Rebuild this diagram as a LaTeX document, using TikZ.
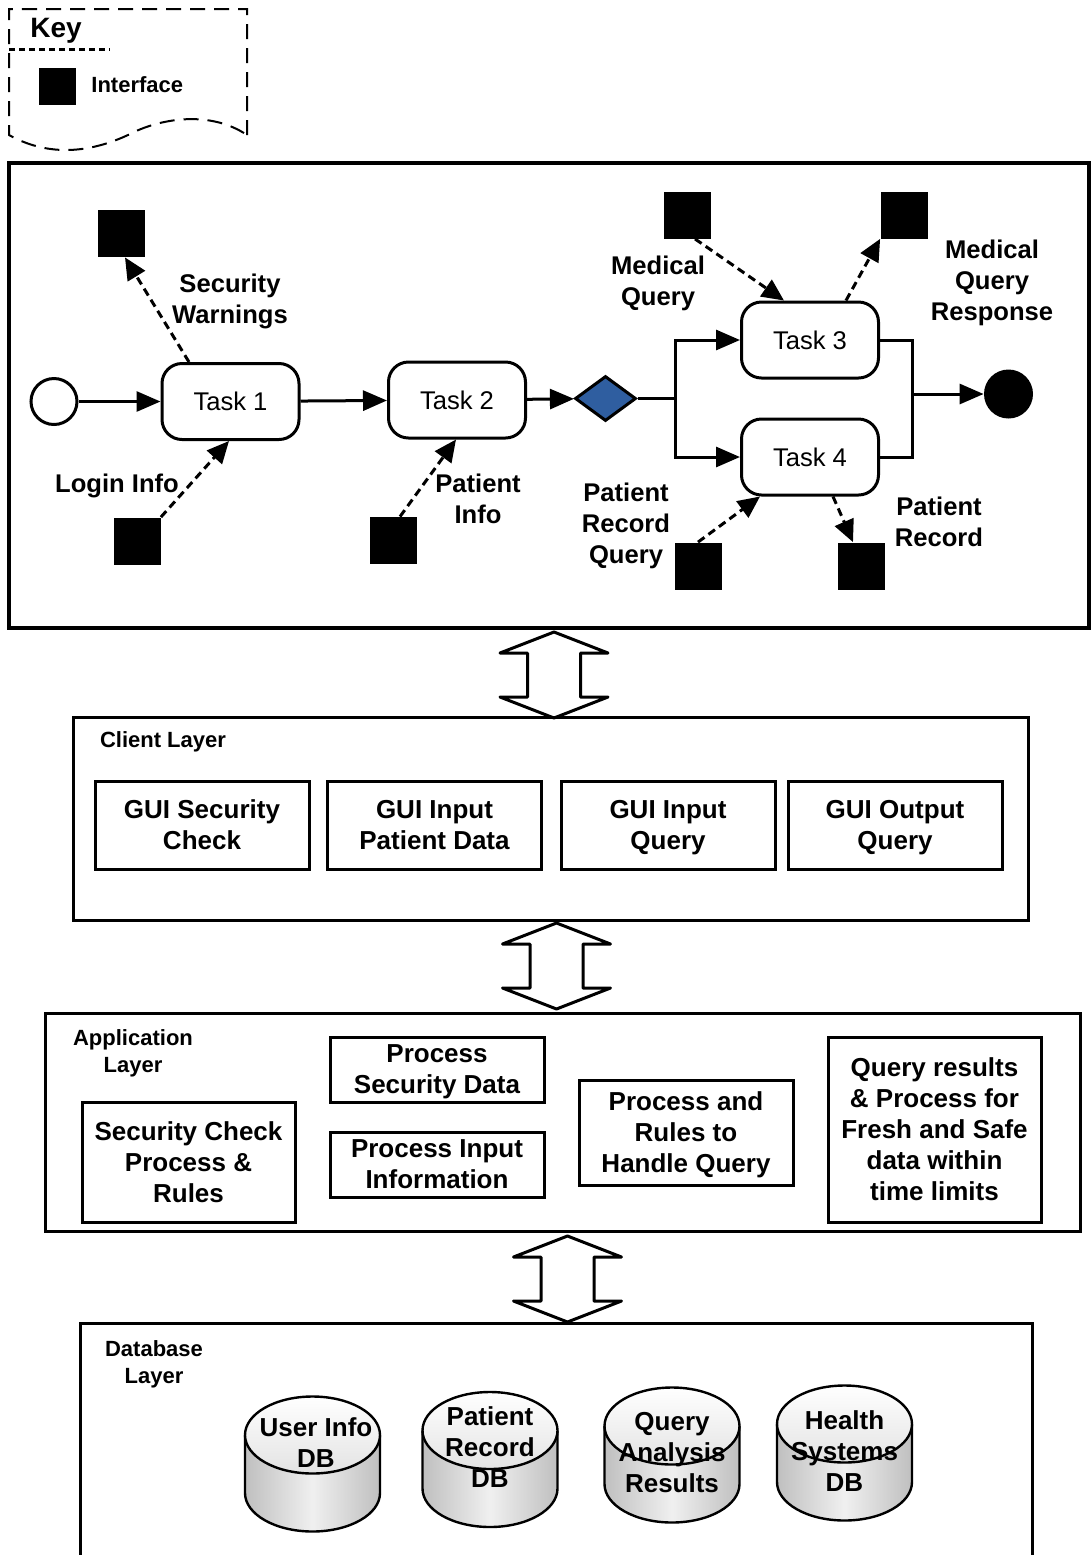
\documentclass[tikz,border=0pt]{standalone}
\usepackage{fontspec}
\setmainfont{Liberation Sans}
\usetikzlibrary{arrows.meta,shapes.geometric,calc}
\definecolor{gatewayblue}{RGB}{47,94,160}

% two-headed block arrow between layers
\tikzset{
  updown/.pic={
    \draw[line width=1.5pt,line join=round,fill=white]
      (0,-43) -- (54,-22) -- (26.5,-22) -- (26.5,22) -- (54,22) -- (0,43)
      -- (-54,22) -- (-26.5,22) -- (-26.5,-22) -- (-54,-22) -- cycle;
  },
  % database drum, origin at the centre of the top ellipse
  dbcyl/.pic={
    \path[left color=gray!50,right color=gray!50,middle color=gray!12]
      (-67.5,0) -- (-67.5,58) arc[start angle=180,end angle=0,x radius=67.5,y radius=38.5]
      -- (67.5,0) -- cycle;
    \draw[line width=1.2pt]
      (-67.5,0) -- (-67.5,58) arc[start angle=180,end angle=0,x radius=67.5,y radius=38.5]
      -- (67.5,0);
    \draw[line width=1.2pt,top color=white,bottom color=gray!22]
      (0,0) ellipse[x radius=67.5,y radius=38.5];
  }
}

\begin{document}
\begin{tikzpicture}[x=0.5pt,y=-0.5pt,
  lw/.style={line width=1.5pt},
  task/.style={draw,line width=1.5pt,rounded corners=10pt,minimum width=68.5pt,
    minimum height=38pt,inner sep=0pt,font=\fontsize{12.8}{15}\selectfont},
  iface/.style={fill=black,minimum size=23.5pt,inner sep=0pt},
  flowlbl/.style={align=center,font=\bfseries\fontsize{12.8}{15.5}\selectfont,inner sep=0pt},
  flow/.style={line width=1.5pt,-{Triangle[length=12pt,width=10pt]}},
  dataflow/.style={line width=1.5pt,dash pattern=on 4pt off 2.5pt,
    -{Triangle[length=11pt,width=10pt]}},
  layer/.style={draw,line width=1.5pt},
  layerlbl/.style={align=center,font=\bfseries\fontsize{11}{13.5}\selectfont,inner sep=0pt},
  comp/.style={draw,line width=1.5pt,inner sep=0pt,align=center,
    font=\bfseries\fontsize{13}{15.5}\selectfont},
  dblabel/.style={align=center,font=\bfseries\fontsize{13}{15.5}\selectfont,inner sep=0pt}
]
\useasboundingbox (0,0) rectangle (1091,1555);

% ---------- legend ----------
\draw[line width=1pt,dash pattern=on 7.5pt off 4.5pt]
  (247,135) -- (247,9) -- (9,9) -- (9,135)
  .. controls (45,155) and (85,155) .. (128,135)
  .. controls (160,118) and (210,110) .. (247,135);
\draw[line width=1.5pt,dash pattern=on 3pt off 2pt] (9,49) -- (110,49);
\node[font=\bfseries\fontsize{14}{16}\selectfont,inner sep=0pt] (keyttl) at (56,31) {Key};
\node[fill=black,minimum size=18.5pt,inner sep=0pt] (keysq) at (57.5,86) {};
\node[font=\bfseries\fontsize{11}{13}\selectfont,anchor=west,inner sep=0pt] (keytxt) at (91,85) {Interface};

% ---------- process panel ----------
\draw[line width=1.75pt] (9,163) rectangle (1089,628);

\node[circle,draw,line width=1.5pt,minimum size=23pt,inner sep=0pt] (start) at (54,401.5) {};
\node[task] (t1) at (230.5,401.5) {Task 1};
\node[task] (t2) at (457,400) {Task 2};
\node[diamond,draw,fill=gatewayblue,line width=1.5pt,minimum width=30.5pt,
  minimum height=22.5pt,inner sep=0pt] (gw) at (605.5,398.5) {};
\node[task] (t3) at (810,340) {Task 3};
\node[task] (t4) at (810,457) {Task 4};
\node[circle,fill=black,minimum size=24.5pt,inner sep=0pt] (endc) at (1008.5,394) {};

\node[iface] (sw) at (121.5,233.5) {};
\node[iface] (li) at (137,541) {};
\node[iface] (pi) at (393.5,540.5) {};
\node[iface] (mq) at (687,215) {};
\node[iface] (mqr) at (904,215) {};
\node[iface] (prq) at (698,566) {};
\node[iface] (pr) at (861,566) {};

\coordinate (fork) at (675,398.5);
\coordinate (join) at (912,394);

\draw[flow] (start) -- (t1);
\draw[flow] (t1) -- (t2);
\draw[flow] (t2) -- (gw);
\draw[lw] (gw) -- (fork);
\draw[flow] (fork) |- (t3);
\draw[flow] (fork) |- (t4);
\draw[lw] (t3) -| (join);
\draw[lw] (t4) -| (join);
\draw[flow] (join) -- (endc);

\draw[dataflow] ($(t1.north)+(-41.5,0)$) -- ($(sw.south)+(3.5,0)$);
\draw[dataflow] (li.north east) -- ($(t1.south)+(-1.5,0)$);
\draw[dataflow] ($(pi.north)+(6.5,0)$) -- ($(t2.south)+(-1,0)$);
\draw[dataflow] ($(mq.south)+(8,0)$) -- ($(t3.north)+(-26,0)$);
\draw[dataflow] ($(t3.north)+(36,0)$) -- (mqr.south west);
\draw[dataflow] (prq.north) -- ($(t4.south)+(-50,0)$);
\draw[dataflow] ($(t4.south)+(23,0)$) -- ($(pr.north)+(-8,0)$);

\node[flowlbl] (lsw) at (230,301.5) {Security\\Warnings};
\node[flowlbl] (lli) at (117,486) {Login Info};
\node[flowlbl] (lpi) at (478,499) {Patient\\Info};
\node[flowlbl] (lmq) at (658,283.5) {Medical\\Query};
\node[flowlbl] (lmqr) at (992,283) {Medical\\Query\\Response};
\node[flowlbl] (lprq) at (626,526) {Patient\\Record\\Query};
\node[flowlbl] (lpr) at (939,521.5) {Patient\\Record};

% ---------- arrows between layers ----------
\pic at (554,675) {updown};
\pic at (556.5,966) {updown};
\pic at (567.5,1279) {updown};

% ---------- client layer ----------
\draw[layer] (73,717) rectangle (1028,920);
\node[layerlbl] (cl) at (163,742) {Client Layer};
\node[comp,minimum width=107pt,minimum height=44pt] (g1) at (202,825) {GUI Security\\Check};
\node[comp,minimum width=107pt,minimum height=44pt] (g2) at (434.5,825) {GUI Input\\Patient Data};
\node[comp,minimum width=107pt,minimum height=44pt] (g3) at (668,825) {GUI Input\\\smash{Query}};
\node[comp,minimum width=107pt,minimum height=44pt] (g4) at (895,825) {GUI Output\\\smash{Query}};

% ---------- application layer ----------
\draw[layer] (45,1013) rectangle (1080,1231);
\node[layerlbl] (al) at (133,1053) {Application\\Layer};
\node[comp,minimum width=106.5pt,minimum height=60pt] (a1) at (188.5,1162) {Security Check\\Process \&\\Rules};
\node[comp,minimum width=107pt,minimum height=32.5pt] (a2) at (437,1069.5) {Process\\\smash{Security Data}};
\node[comp,minimum width=107pt,minimum height=32.5pt] (a3) at (437,1164.5) {Process Input\\Information};
\node[comp,minimum width=107pt,minimum height=52.5pt] (a4) at (686,1132.5) {Process and\\Rules to\\\smash{Handle Query}};
\node[comp,minimum width=106.5pt,minimum height=92.5pt] (a5) at (934.5,1129.5)
  {Query results\\\& Process for\\Fresh and Safe\\data within\\time limits};

% ---------- database layer ----------
\draw[layer] (80,1556) -- (80,1323) -- (1032,1323) -- (1032,1556);
\node[layerlbl] (dl) at (154,1364) {Database\\Layer};

\pic at (312.5,1435) {dbcyl};
\pic at (490,1430.5) {dbcyl};
\pic at (672,1426) {dbcyl};
\pic at (844.5,1424) {dbcyl};

\node[dblabel] (d1) at (316,1442.5) {User Info\\DB};
\node[dblabel] (d2) at (490,1447.5) {Patient\\Record\\DB};
\node[dblabel] (d3) at (672,1452.5) {Query\\Analysis\\Results};
\node[dblabel] (d4) at (844.5,1451.5) {Health\\Systems\\DB};
\end{tikzpicture}
\end{document}
